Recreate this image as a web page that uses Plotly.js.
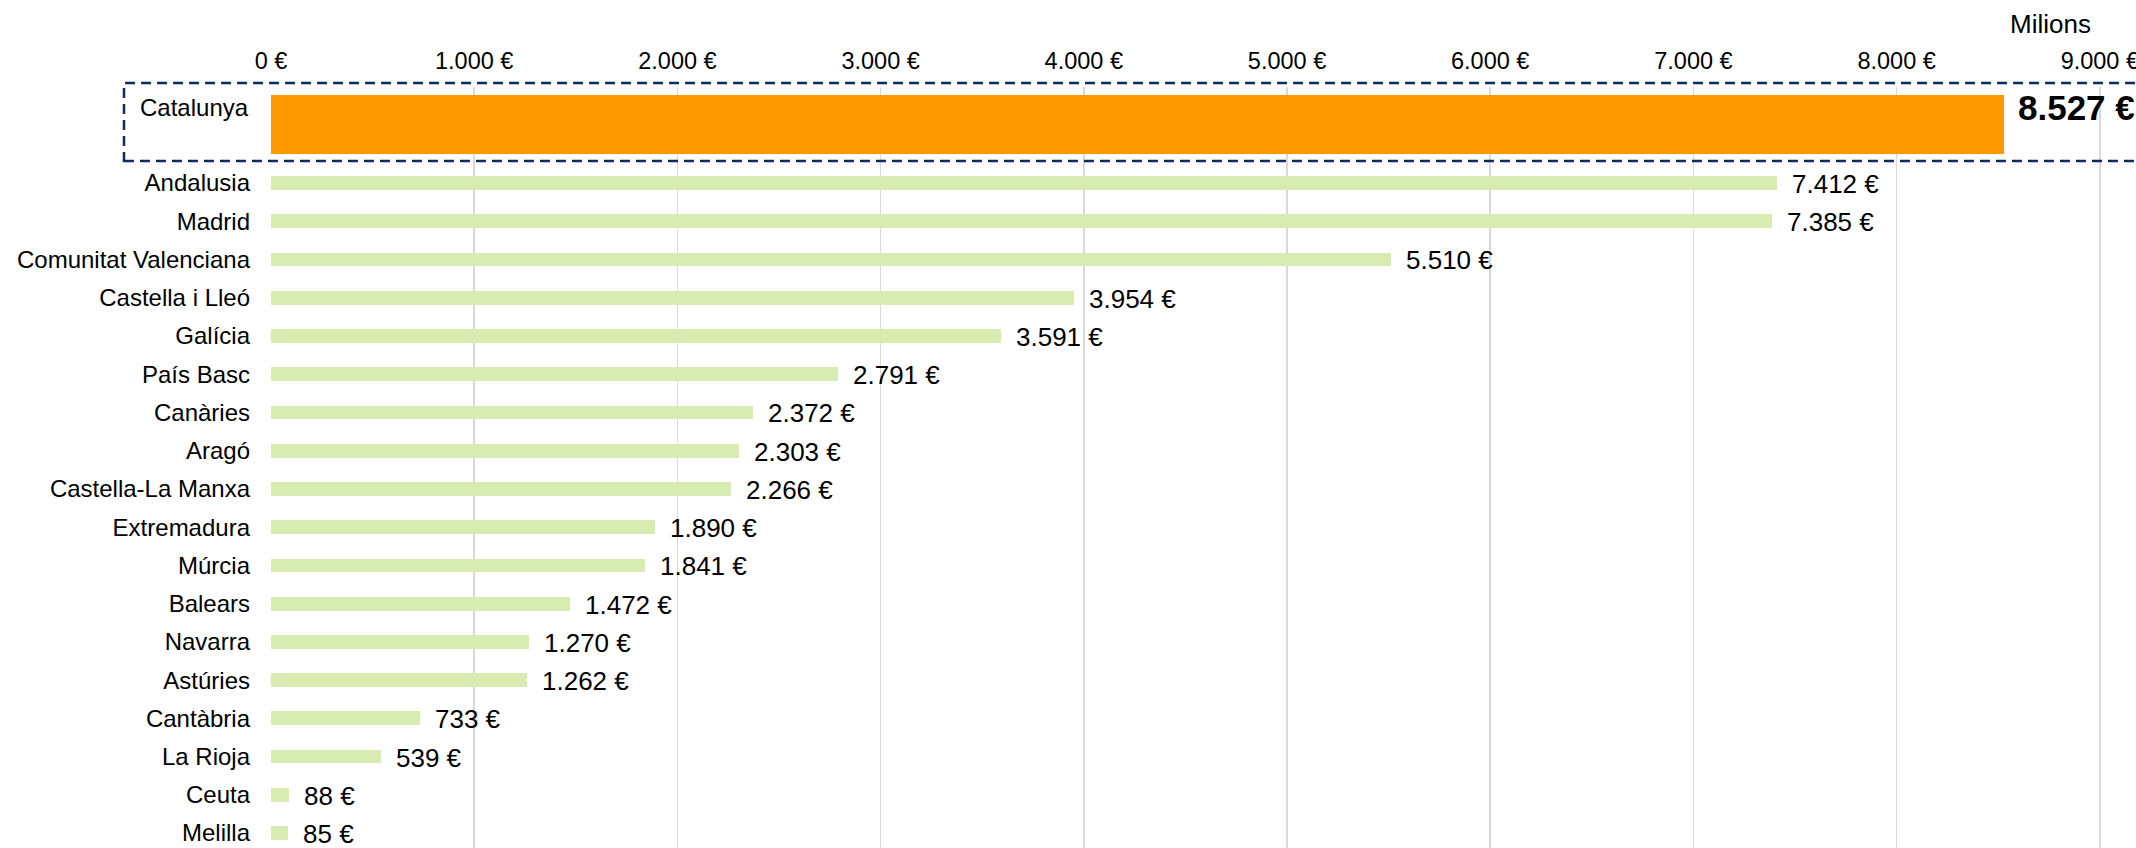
<!DOCTYPE html>
<html>
<head>
<meta charset="utf-8">
<script src="https://cdn.plot.ly/plotly-3.0.1.min.js"></script>
<style>
  html, body { margin: 0; padding: 0; background: #ffffff; }
  #chart { width: 2136px; height: 848px; }
</style>
</head>
<body>
<div id="chart"></div>
<script>
// ---- data ----
const highlightRegion = ['Catalunya'];
const highlightValue = [8527];

const regions = ['Andalusia', 'Madrid', 'Comunitat Valenciana', 'Castella i Lleó', 'Galícia',
  'País Basc', 'Canàries', 'Aragó', 'Castella-La Manxa', 'Extremadura', 'Múrcia', 'Balears',
  'Navarra', 'Astúries', 'Cantàbria', 'La Rioja', 'Ceuta', 'Melilla'];
const values = [7412, 7385, 5510, 3954, 3591, 2791, 2372, 2303, 2266, 1890, 1841, 1472,
  1270, 1262, 733, 539, 88, 85];

const tickValues = [0, 1000, 2000, 3000, 4000, 5000, 6000, 7000, 8000, 9000];
const tickLabels = ['0 €', '1.000 €', '2.000 €', '3.000 €', '4.000 €', '5.000 €', '6.000 €', '7.000 €', '8.000 €', '9.000 €'];
const unitLabel = 'Milions';

// ---- helpers ----
function fmt(v) {
  return v.toString().replace(/\B(?=(\d{3})+(?!\d))/g, '.') + ' €';
}

const FONT = 'Arial, "Liberation Sans", sans-serif';
const ORANGE = '#FF9900';
const GREEN = '#D8EBB1';
const NAVY = '#0F2A5E';

const traces = [
  {
    type: 'bar', orientation: 'h',
    x: highlightValue, y: highlightRegion,
    xaxis: 'x', yaxis: 'y',
    marker: { color: ORANGE },
    width: 0.78,
    hoverinfo: 'skip'
  },
  {
    type: 'bar', orientation: 'h',
    x: values, y: regions,
    xaxis: 'x', yaxis: 'y2',
    marker: { color: GREEN },
    width: 0.36,
    hoverinfo: 'skip'
  }
];

const annotations = [];
values.forEach((v, i) => {
  annotations.push({
    x: v, y: regions[i], xref: 'x', yref: 'y2',
    text: fmt(v), showarrow: false,
    xanchor: 'left', yanchor: 'middle', xshift: 13, yshift: -1,
    font: { family: FONT, size: 26, color: '#000000' }
  });
});
annotations.push({
  x: highlightValue[0], y: highlightRegion[0], xref: 'x', yref: 'y',
  text: '<b>' + fmt(highlightValue[0]) + '</b>', showarrow: false,
  xanchor: 'left', yanchor: 'middle', xshift: 12, yshift: 17,
  font: { family: FONT, size: 35, color: '#000000' }
});
annotations.push({
  x: 0, y: highlightRegion[0], xref: 'paper', yref: 'y',
  text: highlightRegion[0], showarrow: false,
  xanchor: 'right', yanchor: 'middle', xshift: -20, yshift: 17,
  font: { family: FONT, size: 24, color: '#000000' }
});
annotations.push({
  x: (2050 - 271) / (2136 - 271), y: (848 - 24) / 848, xref: 'paper', yref: 'paper',
  text: unitLabel, showarrow: false,
  xanchor: 'center', yanchor: 'middle',
  font: { family: FONT, size: 26, color: '#000000' }
});

const layout = {
  width: 2136, height: 848,
  margin: { l: 271, r: 0, t: 0, b: 0, pad: 0 },
  paper_bgcolor: '#ffffff', plot_bgcolor: '#ffffff',
  showlegend: false,
  bargap: 0,
  font: { family: FONT, size: 23.5, color: '#000000' },
  xaxis: {
    anchor: 'y', side: 'top',
    range: [0, 9178],
    tickvals: tickValues, ticktext: tickLabels,
    tickfont: { family: FONT, size: 23.5, color: '#000000' },
    ticklabeloverflow: 'allow',
    showgrid: true, gridcolor: '#D9D9D9', gridwidth: 1.5,
    zeroline: false, showline: false, ticks: '',
    ticklabelstandoff: 12,
    fixedrange: true
  },
  yaxis: {
    anchor: 'x', domain: [(848 - 162) / 848, (848 - 87) / 848],
    range: [0.5, -0.5], type: 'category',
    showticklabels: false, showgrid: false, zeroline: false, showline: false, ticks: '',
    fixedrange: true
  },
  yaxis2: {
    anchor: 'x', domain: [0, (848 - 162) / 848],
    type: 'category',
    categoryorder: 'array', categoryarray: regions,
    range: [17.39, -0.548],
    tickfont: { family: FONT, size: 24, color: '#000000' },
    showgrid: false, zeroline: false, showline: false, ticks: '',
    ticklabelstandoff: 20,
    fixedrange: true
  },
  shapes: [
    {
      type: 'rect', xref: 'paper', yref: 'paper',
      x0: (124 - 271) / (2136 - 271), x1: 1.1,
      y0: (848 - 161) / 848, y1: (848 - 83) / 848,
      line: { color: NAVY, width: 2.5, dash: '10px,6px' },
      fillcolor: 'rgba(0,0,0,0)', layer: 'above'
    }
  ],
  annotations: annotations
};

Plotly.newPlot('chart', traces, layout, { displayModeBar: false, staticPlot: true });
</script>
</body>
</html>
